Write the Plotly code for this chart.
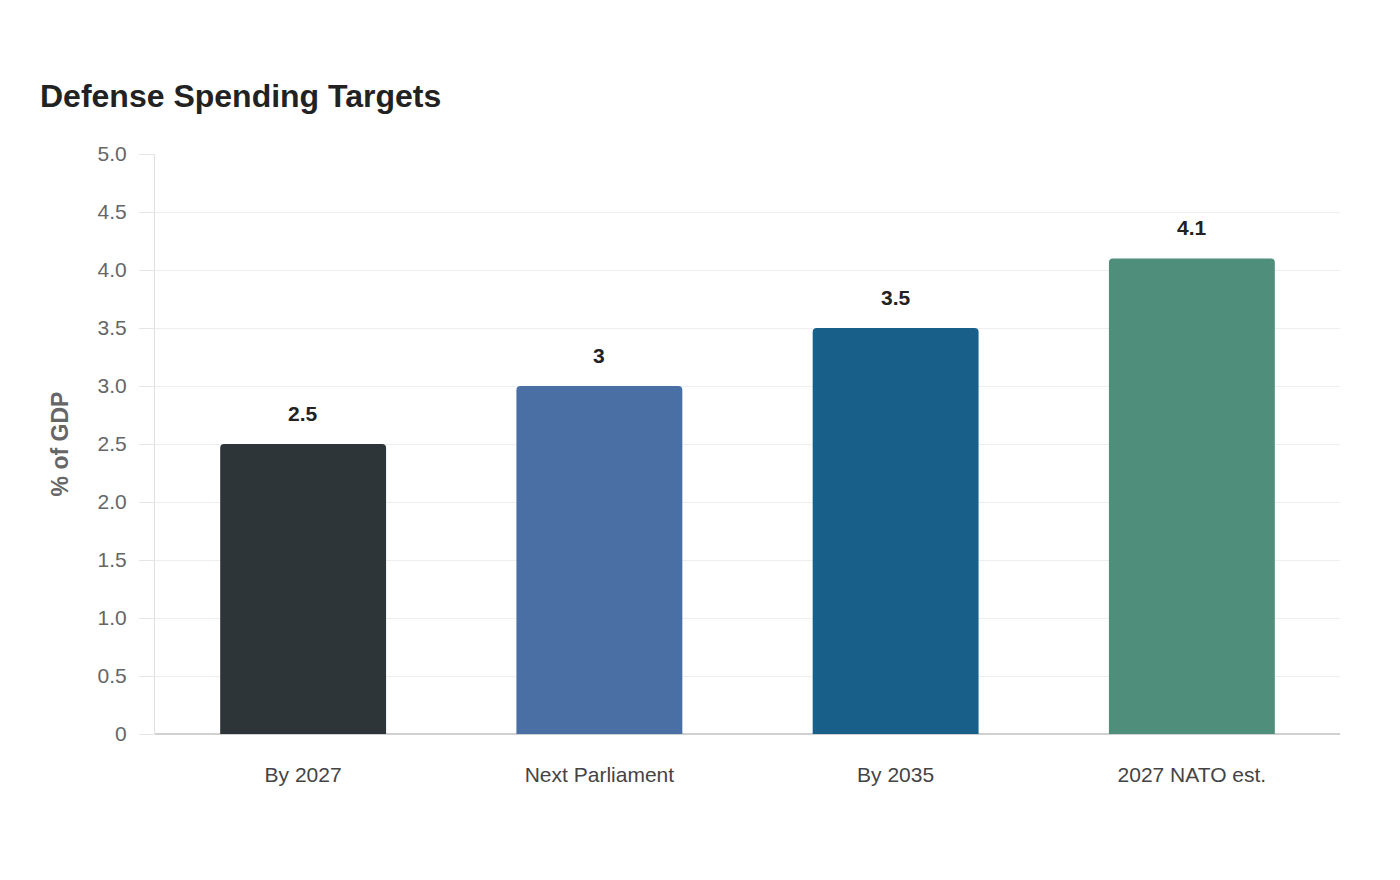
import plotly.graph_objects as go

categories = ["By 2027", "Next Parliament", "By 2035", "2027 NATO est."]
values = [2.5, 3, 3.5, 4.1]
value_labels = ["2.5", "3", "3.5", "4.1"]
bar_colors = ["#2E3538", "#4A6FA5", "#18608A", "#4E8E7A"]
y_tickvals = [0, 0.5, 1.0, 1.5, 2.0, 2.5, 3.0, 3.5, 4.0, 4.5, 5.0]
y_ticktext = ["0", "0.5", "1.0", "1.5", "2.0", "2.5", "3.0", "3.5", "4.0", "4.5", "5.0"]

FONT = "Liberation Sans, Arial, sans-serif"

fig = go.Figure()
fig.add_trace(go.Bar(
    x=categories, y=values,
    marker=dict(color=bar_colors, line=dict(width=0), cornerradius=4),
    width=0.56,
    hoverinfo="x+y",
))

for c, v, t in zip(categories, values, value_labels):
    fig.add_annotation(x=c, y=v, text=f"<b>{t}</b>", showarrow=False,
                       yanchor="middle", yshift=31,
                       font=dict(family=FONT, size=21, color="#222222"))

fig.update_layout(
    width=1400, height=880,
    paper_bgcolor="white", plot_bgcolor="white",
    margin=dict(l=155, r=60, t=154, b=146),
    title=dict(text="<b>Defense Spending Targets</b>", x=40/1400, xanchor="left",
               y=1-96/880, yanchor="middle",
               font=dict(family=FONT, size=32, color="#222222")),
    showlegend=False,
    bargap=0.44,
    font=dict(family=FONT),
)
fig.update_yaxes(
    range=[0, 5.0], tickvals=y_tickvals, ticktext=y_ticktext,
    showgrid=True, gridcolor="#EEEEEE", gridwidth=1,
    zeroline=True, zerolinecolor="#D0D0D0", zerolinewidth=2,
    showline=True, linecolor="#E0E0E0", linewidth=1,
    ticks="outside", ticklen=15, tickcolor="#E5E5E5",
    ticklabelstandoff=8,
    tickfont=dict(family=FONT, size=21, color="#666666"),
    title=dict(text="<b>% of GDP</b>", standoff=22,
               font=dict(family=FONT, size=23, color="#666666")),
)
fig.update_xaxes(
    showgrid=False, showline=False, ticks="",
    ticklabelstandoff=26,
    tickfont=dict(family=FONT, size=21, color="#444444"),
)

fig.write_html("out.html")
